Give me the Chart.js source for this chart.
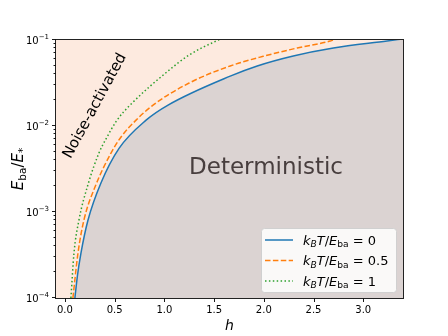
<!DOCTYPE html>
<html>
<head>
<meta charset="utf-8">
<script src="https://cdn.jsdelivr.net/npm/chart.js@4.4.1/dist/chart.umd.min.js"></script>
<style>
  html, body { margin: 0; padding: 0; background: #fff; }
  canvas { display: block; }
</style>
</head>
<body>
<canvas id="regimeChart" width="448" height="336"></canvas>
<script>
// curves: h on x, E_ba/E_* on y (log)
const hT0 = [0.10, 0.125, 0.161, 0.232, 0.363, 0.544, 0.816, 1.037, 1.662, 1.934, 2.296, 2.70, 3.24, 3.40];
const eT0 = [1.0e-4, 1.8e-4, 3.33e-4, 8.07e-4, 2.19e-3, 5.5e-3, 1.17e-2, 1.75e-2, 3.8e-2, 4.99e-2, 6.52e-2, 8.07e-2, 9.73e-2, 1.03e-1];

const hT05 = [0.08, 0.131, 0.191, 0.302, 0.463, 0.564, 0.715, 0.886, 1.249, 1.662, 1.994, 2.336, 2.669, 2.75];
const eT05 = [1.0e-4, 3.33e-4, 8.07e-4, 1.95e-3, 4.85e-3, 7.45e-3, 1.17e-2, 1.75e-2, 3.16e-2, 4.99e-2, 6.46e-2, 8.07e-2, 9.73e-2, 1.05e-1];

const hT1 = [0.06, 0.091, 0.141, 0.232, 0.342, 0.413, 0.524, 0.655, 1.037, 1.249, 1.521, 1.60];
const eT1 = [1.0e-4, 3.33e-4, 8.07e-4, 2.09e-3, 4.85e-3, 7.08e-3, 1.17e-2, 1.75e-2, 4.36e-2, 6.69e-2, 9.73e-2, 1.06e-1];

const ratioLabels = ['0', '0.5', '1'];
const xTickValues = [0, 0.5, 1.0, 1.5, 2.0, 2.5, 3.0];
const xTickLabels = ['0.0', '0.5', '1.0', '1.5', '2.0', '2.5', '3.0'];
const yDecades = [1e-4, 1e-3, 1e-2, 1e-1];
const yDecadeExps = ['\u22124', '\u22123', '\u22122', '\u22121'];

const FONT = '"DejaVu Sans", sans-serif';
const colors = ['#1f77b4', '#ff7f0e', '#2ca02c'];
const dashes = [[], [5.5, 2.4], [1.5, 2.4]];

// y ticks: each decade plus its 2..9 minors
const yTickValues = [];
yDecades.forEach((d, i) => {
  if (i === yDecades.length - 1) { yTickValues.push(d); return; }
  for (let k = 1; k <= 9; k++) yTickValues.push(d * k);
});

function decadeIndex(v) {
  return yDecades.findIndex(d => Math.abs(v - d) / d < 1e-6);
}

function toPoints(hs, es) {
  return hs.map((h, i) => ({ x: h, y: es[i] }));
}

// draws a run of text pieces (italic / sub / superscript)
function drawRuns(ctx, runs, x, y, size, align) {
  const pieces = runs.map(r => {
    const s = size * (r.sub || r.sup ? 0.7 : 1);
    const font = (r.it ? 'italic ' : '') + s + 'px ' + FONT;
    ctx.font = font;
    const dy = r.sub ? size * 0.22 : (r.sup ? -size * 0.42 : 0);
    return { t: r.t, font, w: ctx.measureText(r.t).width, dy };
  });
  const total = pieces.reduce((a, p) => a + p.w, 0);
  let cx = align === 'center' ? x - total / 2 : (align === 'right' ? x - total : x);
  ctx.textAlign = 'left';
  ctx.textBaseline = 'alphabetic';
  pieces.forEach(p => {
    ctx.font = p.font;
    ctx.fillText(p.t, cx, y + p.dy);
    cx += p.w;
  });
}

function legendRuns(val) {
  return [
    { t: 'k', it: true }, { t: 'B', it: true, sub: true }, { t: 'T', it: true },
    { t: '/' }, { t: 'E', it: true }, { t: 'ba', sub: true }, { t: ' = ' + val }
  ];
}

const decor = {
  id: 'decor',
  beforeDraw(chart) {
    const { ctx, chartArea: a } = chart;
    ctx.save();
    ctx.fillStyle = '#fdeadf';
    ctx.fillRect(a.left, a.top, a.right - a.left, a.bottom - a.top);
    ctx.restore();
  },
  afterDatasetsDraw(chart) {
    const { ctx, chartArea: a, scales } = chart;
    ctx.save();

    // region labels
    ctx.fillStyle = '#483e3e';
    ctx.font = '23px ' + FONT;
    ctx.textAlign = 'center';
    ctx.textBaseline = 'alphabetic';
    ctx.fillText('Deterministic', 266, 174);

    ctx.save();
    ctx.translate(95, 106);
    ctx.rotate(-61.5 * Math.PI / 180);
    ctx.fillStyle = '#000';
    ctx.font = '15px ' + FONT;
    ctx.textBaseline = 'middle';
    ctx.fillText('Noise-activated', 0, 0);
    ctx.restore();

    // frame
    ctx.strokeStyle = '#222';
    ctx.lineWidth = 1;
    ctx.strokeRect(Math.round(a.left) - 0.5, Math.round(a.top) - 0.5,
      Math.round(a.right - a.left) + 1, Math.round(a.bottom - a.top) + 1);

    // tick marks
    ctx.strokeStyle = '#000';
    ctx.lineWidth = 0.9;
    ctx.beginPath();
    scales.x.ticks.forEach(t => {
      const px = Math.round(scales.x.getPixelForValue(t.value)) + 0.5;
      ctx.moveTo(px, a.bottom + 0.5);
      ctx.lineTo(px, a.bottom + 4);
    });
    scales.y.ticks.forEach(t => {
      const py = Math.round(scales.y.getPixelForValue(t.value)) - 0.5;
      const len = decadeIndex(t.value) >= 0 ? 3.5 : 2;
      ctx.moveTo(a.left - 0.5, py);
      ctx.lineTo(a.left - 0.5 - len, py);
    });
    ctx.stroke();

    // tick labels, placed by the scales
    ctx.fillStyle = '#000';
    ctx.font = '10px ' + FONT;
    ctx.textAlign = 'center';
    ctx.textBaseline = 'alphabetic';
    xTickValues.forEach((v, i) => {
      ctx.fillText(xTickLabels[i], scales.x.getPixelForValue(v), a.bottom + 15);
    });
    yDecades.forEach((d, i) => {
      const py = scales.y.getPixelForValue(d);
      drawRuns(ctx, [{ t: '10' }, { t: yDecadeExps[i], sup: true }], a.left - 7, py + 3.6, 10, 'right');
    });

    // legend
    const lx = 261, ly = 228, lw = 135, lh = 64;
    ctx.fillStyle = 'rgba(255,255,255,0.85)';
    ctx.strokeStyle = '#d0d0d0';
    ctx.lineWidth = 1;
    ctx.beginPath();
    ctx.roundRect(lx + 0.5, ly + 0.5, lw, lh, 3);
    ctx.fill();
    ctx.stroke();
    ratioLabels.forEach((val, i) => {
      const ry = 240 + i * 20.5;
      ctx.strokeStyle = colors[i];
      ctx.lineWidth = 1.5;
      ctx.setLineDash(dashes[i]);
      ctx.beginPath();
      ctx.moveTo(265, ry);
      ctx.lineTo(293, ry);
      ctx.stroke();
      ctx.setLineDash([]);
      ctx.fillStyle = '#000';
      drawRuns(ctx, legendRuns(val), 303, ry + 4.5, 13, 'left');
    });

    ctx.restore();
  },
  afterDraw(chart) {
    const { ctx, chartArea: a } = chart;
    ctx.save();
    ctx.fillStyle = '#000';
    drawRuns(ctx, [{ t: 'h', it: true }], (a.left + a.right) / 2, 330, 14, 'center');
    ctx.translate(23, (a.top + a.bottom) / 2);
    ctx.rotate(-Math.PI / 2);
    drawRuns(ctx, [
      { t: 'E', it: true }, { t: 'ba', sub: true }, { t: '/' },
      { t: 'E', it: true }, { t: '*', sub: true }
    ], 0, 0, 15, 'center');
    ctx.restore();
  }
};

new Chart(document.getElementById('regimeChart'), {
  type: 'line',
  data: {
    datasets: [
      {
        label: 'kBT/Eba = 0',
        data: toPoints(hT0, eT0),
        borderColor: colors[0],
        borderWidth: 1.5,
        backgroundColor: '#dbd3d2',
        fill: 'start',
        pointRadius: 0,
        cubicInterpolationMode: 'monotone'
      },
      {
        label: 'kBT/Eba = 0.5',
        data: toPoints(hT05, eT05),
        borderColor: colors[1],
        borderWidth: 1.5,
        borderDash: dashes[1],
        fill: false,
        pointRadius: 0,
        cubicInterpolationMode: 'monotone'
      },
      {
        label: 'kBT/Eba = 1',
        data: toPoints(hT1, eT1),
        borderColor: colors[2],
        borderWidth: 1.5,
        borderDash: dashes[2],
        fill: false,
        pointRadius: 0,
        cubicInterpolationMode: 'monotone'
      }
    ]
  },
  options: {
    responsive: false,
    animation: false,
    clip: 0,
    layout: { padding: { top: 40, right: 45, left: 0, bottom: 0 } },
    plugins: {
      legend: { display: false },
      tooltip: { enabled: false },
      filler: { drawTime: 'beforeDatasetsDraw' }
    },
    scales: {
      x: {
        type: 'linear',
        min: -0.09,
        max: 3.40,
        grid: { display: false },
        border: { display: false },
        afterBuildTicks: s => { s.ticks = xTickValues.map(v => ({ value: v })); },
        afterFit: s => { s.height = 38; },
        ticks: { display: false }
      },
      y: {
        type: 'logarithmic',
        min: 1e-4,
        max: 1e-1,
        grid: { display: false },
        border: { display: false },
        afterBuildTicks: s => { s.ticks = yTickValues.map(v => ({ value: v })); },
        afterFit: s => { s.width = 56; },
        ticks: { display: false }
      }
    }
  },
  plugins: [decor]
});
</script>
</body>
</html>
